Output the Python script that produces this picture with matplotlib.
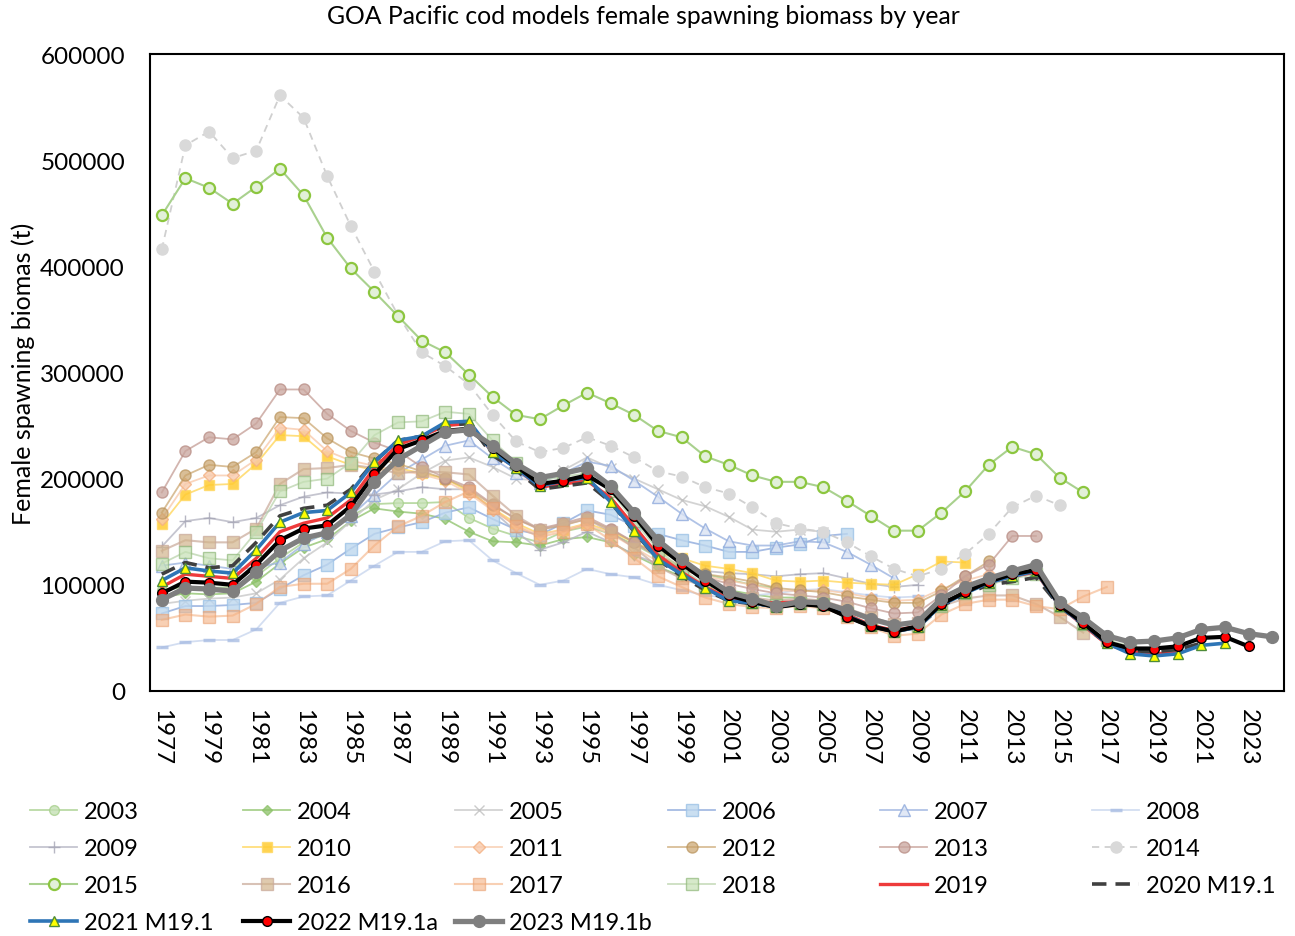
#GOA Pacific cod models - female spawning biomass by year
import matplotlib
matplotlib.use('Agg')
import matplotlib.pyplot as plt

years = list(range(1977, 2025))

# model runs, every series starts in 1977
m2003 = [95000, 98000, 97000, 98000, 108000, 125000, 140000, 148000, 165000, 176000, 177000, 177000, 178000, 163000, 153000,
	146000, 140000, 150000, 155000, 148000, 138000, 126000, 117000, 110000, 105000, 100000, 97000]
m2004 = [88000, 92000, 91000, 92000, 103000, 120000, 135000, 143000, 160000, 172000, 169000, 167000, 162000, 150000, 141000,
	140000, 137000, 143000, 145000, 140000, 128000, 117000, 108000, 100000, 95000, 91000, 88000, 88000]
m2005 = [82000, 85000, 87000, 88000, 92000, 105000, 125000, 140000, 160000, 180000, 190000, 205000, 217000, 220000, 211000,
	200000, 198000, 208000, 220000, 210000, 200000, 190000, 180000, 174000, 164000, 152000, 150000, 152000, 150000]
m2006 = [73000, 80000, 80000, 81000, 83000, 96000, 109000, 119000, 134000, 148000, 154000, 159000, 168000, 173000, 162000,
	152000, 147000, 158000, 170000, 166000, 155000, 148000, 142000, 137000, 131000, 131000, 135000, 138000, 146000, 148000]
m2007 = [118000, 121000, 118000, 115000, 116000, 121000, 138000, 150000, 165000, 185000, 205000, 218000, 231000, 236000, 219000,
	205000, 196000, 205000, 216000, 212000, 198000, 183000, 167000, 153000, 141000, 137000, 137000, 141000, 140000, 131000,
	119000, 106000]
m2008 = [41000, 46000, 48000, 48000, 58000, 83000, 89000, 90000, 104000, 118000, 131000, 131000, 141000, 142000, 123000,
	111000, 100000, 104000, 115000, 110000, 107000, 100000, 95000, 90000, 88000, 90000, 92000, 95000, 96000, 93000,
	90000, 88000, 89000]
m2009 = [136000, 160000, 163000, 159000, 163000, 175000, 183000, 187000, 186000, 185000, 188000, 192000, 190000, 190000, 170000,
	150000, 133000, 140000, 150000, 140000, 128000, 120000, 115000, 113000, 111000, 110000, 108000, 110000, 111000, 106000,
	101000, 98000, 100000]
m2010 = [157000, 185000, 194000, 195000, 214000, 241000, 240000, 221000, 213000, 208000, 210000, 205000, 200000, 188000, 172000,
	158000, 148000, 152000, 158000, 150000, 140000, 130000, 125000, 118000, 115000, 111000, 104000, 103000, 104000, 102000,
	101000, 100000, 110000, 122000, 121000]
m2011 = [162000, 195000, 203000, 203000, 218000, 248000, 246000, 226000, 217000, 212000, 208000, 204000, 198000, 186000, 170000,
	156000, 147000, 152000, 157000, 148000, 135000, 122000, 114000, 108000, 104000, 100000, 95000, 94000, 95000, 92000,
	88000, 85000, 86000, 96000, 104000, 110000]
m2012 = [168000, 203000, 213000, 211000, 225000, 258000, 257000, 238000, 225000, 219000, 214000, 207000, 200000, 190000, 175000,
	162000, 152000, 156000, 162000, 152000, 140000, 128000, 118000, 110000, 107000, 103000, 97000, 95000, 93000, 89000,
	86000, 83000, 83000, 94000, 108000, 122000]
m2013 = [187000, 226000, 239000, 237000, 252000, 284000, 284000, 261000, 245000, 234000, 226000, 211000, 201000, 192000, 176000,
	162000, 153000, 158000, 164000, 153000, 140000, 126000, 115000, 107000, 101000, 96000, 92000, 90000, 88000, 84000,
	78000, 73000, 74000, 90000, 108000, 119000, 146000, 146000]
m2014 = [416000, 514000, 527000, 502000, 509000, 561000, 540000, 485000, 438000, 395000, 354000, 319000, 306000, 289000, 260000,
	235000, 225000, 229000, 239000, 231000, 220000, 207000, 202000, 192000, 186000, 173000, 158000, 153000, 150000, 140000,
	127000, 115000, 108000, 115000, 129000, 148000, 173000, 184000, 175000]
m2015 = [448000, 483000, 474000, 459000, 475000, 492000, 467000, 427000, 398000, 376000, 353000, 330000, 319000, 298000, 277000,
	260000, 256000, 269000, 281000, 271000, 260000, 245000, 239000, 221000, 213000, 203000, 197000, 197000, 192000, 179000,
	165000, 151000, 151000, 168000, 188000, 213000, 230000, 223000, 201000, 187000]
m2016 = [132000, 142000, 140000, 140000, 153000, 195000, 209000, 210000, 213000, 210000, 205000, 207000, 206000, 204000, 184000,
	165000, 152000, 157000, 162000, 150000, 135000, 117000, 106000, 98000, 92000, 88000, 85000, 87000, 85000, 78000,
	70000, 63000, 64000, 80000, 87000, 90000, 90000, 82000, 70000, 55000]
m2017 = [67000, 72000, 70000, 71000, 82000, 98000, 101000, 101000, 115000, 137000, 155000, 165000, 178000, 188000, 172000,
	155000, 145000, 150000, 157000, 142000, 125000, 108000, 98000, 88000, 82000, 79000, 78000, 80000, 78000, 70000,
	60000, 52000, 54000, 72000, 82000, 86000, 86000, 80000, 77000, 89000, 98000]
m2018 = [120000, 131000, 125000, 123000, 150000, 188000, 197000, 200000, 215000, 241000, 253000, 254000, 263000, 261000, 236000,
	215000, 198000, 202000, 205000, 188000, 160000, 133000, 115000, 100000, 88000, 84000, 81000, 83000, 82000, 73000,
	63000, 57000, 61000, 80000, 92000, 100000, 106000, 110000, 80000, 63000, 48000, 42000]
m2019 = [98000, 110000, 108000, 106000, 125000, 150000, 158000, 163000, 180000, 210000, 232000, 240000, 250000, 252000, 225000,
	210000, 192000, 195000, 198000, 182000, 155000, 128000, 112000, 98000, 87000, 84000, 83000, 84000, 82000, 72000,
	62000, 57000, 61000, 82000, 93000, 102000, 108000, 112000, 80000, 62000, 44000, 37000, 35000, 36000]
m2020 = [110000, 121000, 116000, 118000, 140000, 165000, 172000, 175000, 190000, 216000, 236000, 240000, 250000, 252000, 222000,
	208000, 190000, 193000, 196000, 178000, 150000, 124000, 108000, 95000, 85000, 82000, 80000, 82000, 80000, 70000,
	61000, 56000, 60000, 80000, 91000, 100000, 103000, 107000, 80000, 62000, 45000, 38000, 37000, 39000, 45000]
m2021 = [104000, 116000, 113000, 111000, 133000, 159000, 168000, 170000, 187000, 216000, 236000, 240000, 253000, 254000, 225000,
	210000, 193000, 198000, 201000, 178000, 151000, 124000, 110000, 97000, 85000, 83000, 79000, 82000, 81000, 71000,
	61000, 56000, 60000, 81000, 92000, 102000, 108000, 113000, 80000, 63000, 45000, 35000, 33000, 35000, 43000, 45000]
m2022 = [92000, 103000, 102000, 100000, 119000, 142000, 153000, 156000, 174000, 204000, 228000, 236000, 245000, 247000, 229000,
	212000, 195000, 198000, 203000, 190000, 165000, 137000, 120000, 104000, 90000, 84000, 79000, 82000, 80000, 70000,
	61000, 56000, 61000, 82000, 93000, 103000, 110000, 114000, 81000, 64000, 46000, 40000, 40000, 42000, 50000, 51000, 42000]
m2023 = [86000, 97000, 96000, 94000, 112000, 132000, 144000, 149000, 166000, 197000, 218000, 231000, 244000, 246000, 231000,
	214000, 201000, 205000, 210000, 193000, 168000, 142000, 124000, 108000, 93000, 87000, 80000, 84000, 83000, 76000,
	68000, 62000, 65000, 87000, 98000, 106000, 113000, 119000, 84000, 69000, 52000, 46000, 47000, 50000, 58000, 60000,
	54000, 51000]

labels = ['2003', '2004', '2005', '2006', '2007', '2008', '2009', '2010', '2011', '2012', '2013', '2014',
	'2015', '2016', '2017', '2018', '2019', '2020 M19.1', '2021 M19.1', '2022 M19.1a', '2023 M19.1b']

plt.rcParams['font.family'] = ['Lato', 'DejaVu Sans']

fig = plt.figure(figsize=(12.95, 9.37), dpi=100)
ax = fig.add_axes([0.1158, 0.2615, 0.8757, 0.6798])

x = list(range(len(years)))

def xs(vals):
	return x[:len(vals)]

h = []
# older runs, drawn faint
h += ax.plot(xs(m2003), m2003, color='#A9D18E', lw=1.3, marker='o', ms=7, mfc='#C5E0B4', mec='#A9D18E', alpha=0.8)
h += ax.plot(xs(m2004), m2004, color='#8CC168', lw=1.3, marker='D', ms=5, mfc='#8CC168', mec='#8CC168', alpha=0.75)
h += ax.plot(xs(m2005), m2005, color='#C9C9C9', lw=1.3, marker='x', ms=7, mec='#BFBFBF', alpha=0.8)
h += ax.plot(xs(m2006), m2006, color='#8FAADC', lw=1.3, marker='s', ms=8, mfc='#BDD7EE', mec='#9DC3E6', alpha=0.8)
h += ax.plot(xs(m2007), m2007, color='#9DB4E0', lw=1.3, marker='^', ms=8, mfc='#DAE3F3', mec='#8FAADC', alpha=0.8)
h += ax.plot(xs(m2008), m2008, color='#C9D6EE', lw=1.3, marker='_', ms=9, mew=2.5, mec='#A9BDE3', alpha=0.8)
h += ax.plot(xs(m2009), m2009, color='#B7B7C4', lw=1.3, marker='+', ms=8, mec='#A5A5B5', alpha=0.8)
h += ax.plot(xs(m2010), m2010, color='#FFD966', lw=1.3, marker='s', ms=7, mfc='#FFCC33', mec='#FFD966', alpha=0.85)
h += ax.plot(xs(m2011), m2011, color='#F8CBAD', lw=1.3, marker='D', ms=6, mfc='#F8CBAD', mec='#F4B183', alpha=0.8)
h += ax.plot(xs(m2012), m2012, color='#C9A36B', lw=1.3, marker='o', ms=8, mfc='#C9A36B', mec='#B8925A', alpha=0.7)
h += ax.plot(xs(m2013), m2013, color='#C49C94', lw=1.3, marker='o', ms=8, mfc='#C9A59D', mec='#B88C84', alpha=0.75)
h += ax.plot(xs(m2014), m2014, color='#D0D0D0', lw=1.3, ls=(0, (4, 3)), marker='o', ms=8, mfc='#D9D9D9', mec='#D9D9D9')
h += ax.plot(xs(m2015), m2015, color='#A9D18E', lw=1.5, marker='o', ms=8, mfc='#E2F0D9', mec='#8CC63F', mew=1.6)
h += ax.plot(xs(m2016), m2016, color='#C8A898', lw=1.5, marker='s', ms=8, mfc='#D2B48C', mec='#C8A898', alpha=0.7)
h += ax.plot(xs(m2017), m2017, color='#F4B183', lw=1.5, marker='s', ms=8, mfc='#F4B183', mec='#E9A070', alpha=0.6)
h += ax.plot(xs(m2018), m2018, color='#B5D0A6', lw=1.3, marker='s', ms=8, mfc='#C5E0B4', mec='#8FB87A', alpha=0.7)

# recent runs
h += ax.plot(xs(m2019), m2019, color='#EE3B3B', lw=2.4)
h += ax.plot(xs(m2020), m2020, color='#404040', lw=2.6, ls=(0, (4, 2.5)))
h += ax.plot(xs(m2021), m2021, color='#2E75B6', lw=2.6, marker='^', ms=7, mfc='#FFFF00', mec='#4E8B3A', mew=1)
h += ax.plot(xs(m2022), m2022, color='black', lw=3, marker='o', ms=7, mfc='#FF0000', mec='black', mew=1)
h += ax.plot(xs(m2023), m2023, color='#7F7F7F', lw=3.8, marker='o', ms=8.5, mfc='#7F7F7F', mec='#7F7F7F')

ax.set_xlim(-0.5, len(years) - 0.5)
ax.set_ylim(0, 600000)
ax.set_yticks(range(0, 600001, 100000))
ax.set_yticklabels([str(v) for v in range(0, 600001, 100000)], fontsize=17.5)
ax.set_xticks(x[::2])
ax.set_xticklabels([str(y) for y in years[::2]], rotation=-90, fontsize=17.5)
ax.tick_params(axis='y', length=0, pad=18)
ax.tick_params(axis='x', length=0, pad=12)
for s in ax.spines.values():
	s.set_linewidth(1.5)
ax.set_ylabel('Female spawning biomas (t)', fontsize=18, labelpad=4)
fig.text(0.497, 1 - 17 / 937.0, 'GOA Pacific cod models female spawning biomass by year', fontsize=17.8,
	ha='center', va='center')

# legend laid out like excel: 6 fixed-width columns, filled row by row
col_x = [30, 243, 455, 668, 880, 1092]
for c in range(6):
	idx = list(range(c, len(labels), 6))
	leg = fig.legend([h[i] for i in idx], [labels[i] for i in idx], loc='upper left',
		bbox_to_anchor=(col_x[c] / 1295.0, 1 - 802 / 937.0), frameon=False, fontsize=17,
		handlelength=2.0, handletextpad=0.3, labelspacing=0.68, borderpad=0, borderaxespad=0)

fig.savefig('out.png', dpi=100)
